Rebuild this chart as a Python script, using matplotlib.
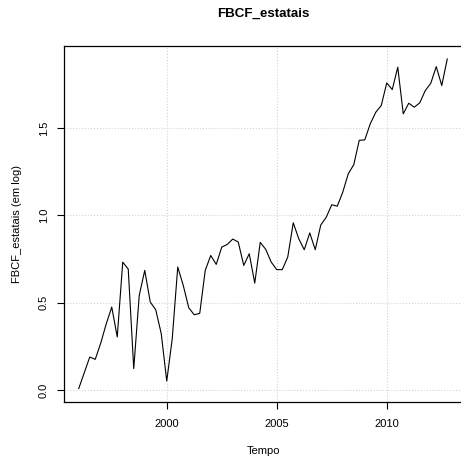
import numpy as np
import matplotlib.pyplot as plt

# quarterly series, 1996Q1 - 2012Q4
start_year = 1996
values = [
    0.01, 0.10, 0.19, 0.177,
    0.27, 0.38, 0.476, 0.305,
    0.733, 0.693, 0.124, 0.543,
    0.686, 0.505, 0.46, 0.324,
    0.053, 0.295, 0.705, 0.60,
    0.472, 0.432, 0.44, 0.686,
    0.771, 0.72, 0.819, 0.834,
    0.865, 0.848, 0.714, 0.781,
    0.613, 0.846, 0.806, 0.733,
    0.69, 0.69, 0.762, 0.958,
    0.867, 0.804, 0.90, 0.804,
    0.945, 0.99, 1.061, 1.053,
    1.133, 1.238, 1.29, 1.43,
    1.432, 1.524, 1.59, 1.629,
    1.758, 1.72, 1.848, 1.581,
    1.642, 1.619, 1.644, 1.714,
    1.756, 1.851, 1.743, 1.895,
]
x_ticks = [2000, 2005, 2010]
y_ticks = [0.0, 0.5, 1.0, 1.5]

t = start_year + np.arange(len(values)) / 4

plt.rcParams['font.family'] = ['Liberation Sans', 'DejaVu Sans']
plt.rcParams['font.size'] = 8

W, H = 461, 459
fig = plt.figure(figsize=(W / 100, H / 100), dpi=100)
ax = fig.add_axes([64 / W, 1 - 402 / H, (462 - 64) / W, (402 - 45.5) / H])

ax.plot(t, values, color='black', linewidth=0.8)

ax.set_xlim(1995.33, 2013.42)
ax.set_ylim(-0.067, 1.972)
ax.set_xticks(x_ticks)
ax.set_yticks(y_ticks)
ax.set_yticklabels([f'{v:.1f}' for v in y_ticks], rotation=90, va='center')
ax.grid(True, color='lightgray', linestyle=':', linewidth=0.8)
ax.tick_params(direction='out', length=5, width=0.8, labelsize=8)
ax.tick_params(axis='x', pad=7)
ax.tick_params(axis='y', pad=6)

for s in ax.spines.values():
    s.set_linewidth(0.9)

ax.set_title('FBCF_estatais', fontsize=9.6, fontweight='bold', y=1.088, va='center', pad=0)
ax.set_xlabel('Tempo')
ax.set_ylabel('FBCF_estatais (em log)')
ax.xaxis.set_label_coords(0.5, -0.137)
ax.yaxis.set_label_coords(-0.118, 0.5)
ax.xaxis.label.set_va('center')
ax.yaxis.label.set_va('center')

fig.savefig('out.png', dpi=100)
